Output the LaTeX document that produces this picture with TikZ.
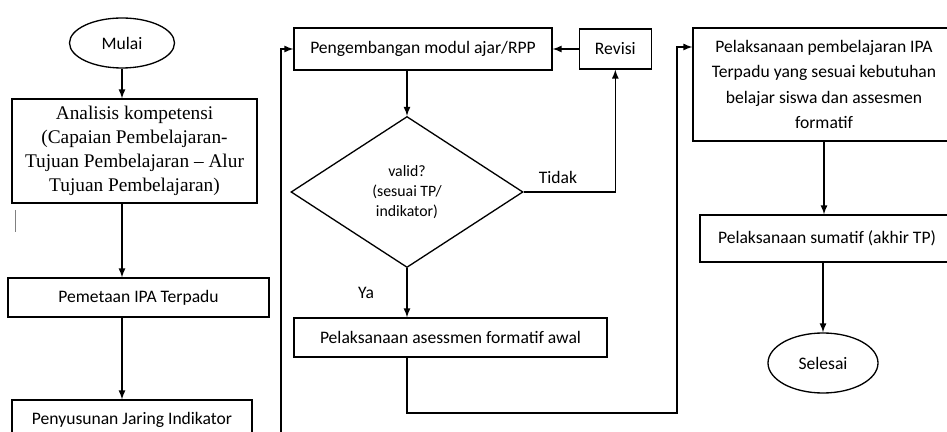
\documentclass[tikz,border=0pt]{standalone}
\usepackage{fontspec}
\setmainfont{Carlito}
\newfontfamily\hurufserif{Liberation Serif}
\usetikzlibrary{positioning}
\usetikzlibrary{arrows}
\usetikzlibrary{shapes}

\begin{document}
\begin{tikzpicture}[>=latex, line width=0.75pt,
    kotak/.style={draw, rectangle, align=center, inner sep=2pt},
    elips/.style={draw, ellipse, inner sep=1pt},
    keputusan/.style={draw, diamond, inner sep=0pt, align=center}]
    \useasboundingbox (0,0) rectangle (18.94,-8.64);
    % set up the nodes
    \node[elips, minimum width=2.1cm, minimum height=1cm] (mulai) at (2.44,-0.86) {Mulai};
    \node[kotak, minimum width=4.9cm, minimum height=2.08cm,
      font=\hurufserif\fontsize{11}{13.7}\selectfont] (analisis) at (2.69,-3.02) {
        Analisis kompetensi\\
        (Capaian Pembelajaran-\\
        Tujuan Pembelajaran – Alur\\
        Tujuan Pembelajaran)
    };
    \node[kotak, minimum width=5.22cm, minimum height=0.78cm] (pemetaan) at (2.77,-5.95) {Pemetaan IPA Terpadu};
    \node[kotak, minimum width=4.8cm, minimum height=0.8cm] (penyusunan) at (2.64,-8.4) {Penyusunan Jaring Indikator};
    \node[kotak, minimum width=5.16cm, minimum height=0.84cm] (pengembangan) at (8.46,-0.98) {Pengembangan modul ajar/RPP};
    \node[kotak, minimum width=1.44cm, minimum height=0.8cm, right=0.52cm of pengembangan] (revisi) {Revisi};
    \node[keputusan, minimum width=4.64cm, minimum height=3.02cm,
      font=\fontsize{9}{11.3}\selectfont] (valid) at (8.14,-3.84) {
        valid?\\
        (sesuai TP/\\
        indikator)
    };
    \node[kotak, minimum width=6.26cm, minimum height=0.78cm] (asesmen) at (9.01,-6.75) {Pelaksanaan asessmen formatif awal};
    \node[kotak, minimum width=5.24cm, minimum height=2.26cm,
      font=\fontsize{10}{14.5}\selectfont] (pembelajaran) at (16.48,-1.69) {
        Pelaksanaan pembelajaran IPA\\
        Terpadu yang sesuai kebutuhan\\
        belajar siswa dan assesmen\\
        formatif
    };
    \node[kotak, minimum width=5.08cm, minimum height=0.94cm] (sumatif) at (16.54,-4.77) {Pelaksanaan sumatif (akhir TP)};
    \node[elips, minimum width=2.2cm, minimum height=1.2cm] (selesai) at (16.46,-7.26) {Selesai};
    \node (tidak) at (11.16,-3.54) {Tidak};
    \node (ya) at (7.32,-5.86) {Ya};
    \coordinate (putar) at (5.62,-9.0);
    \coordinate (jalur) at (13.54,-8.26);
    % stray cursor mark
    \draw[gray, line width=0.5pt] (0.3,-4.2) -- (0.3,-4.64);
    % draw arrows between them
    \draw[->] (mulai.south) -- (mulai.south |- analisis.north);
    \draw[->] (analisis.south -| mulai.south) -- (pemetaan.north -| mulai.south);
    \draw[->] (pemetaan.south -| mulai.south) -- (penyusunan.north -| mulai.south);
    \draw[->] (penyusunan.south) |- (putar) |- (pengembangan.west);
    \draw[->] (pengembangan.south -| valid.north) -- (valid.north);
    \draw[->] (revisi.west) -- (revisi.west -| pengembangan.east);
    \draw[->] (valid.east) -| (revisi.south);
    \draw[->] (valid.south) -- (valid.south |- asesmen.north);
    \draw[->] (asesmen.south -| valid.south) |- (jalur) |- ([yshift=0.75cm]pembelajaran.west);
    \draw[->] (pembelajaran.south) -- (pembelajaran.south |- sumatif.north);
    \draw[->] (selesai.north |- sumatif.south) -- (selesai.north);
\end{tikzpicture}
\end{document}
